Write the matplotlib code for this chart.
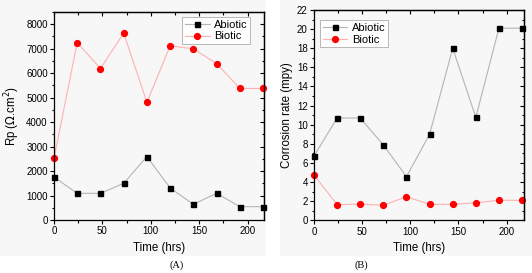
import matplotlib
matplotlib.use("Agg")
import matplotlib.pyplot as plt
from matplotlib.patches import Rectangle
from matplotlib.ticker import MultipleLocator

plt.rcParams["font.family"] = ["Liberation Sans", "DejaVu Sans"]

# data
time_hrs = [0, 24, 48, 72, 96, 120, 144, 168, 192, 216]
rp_abiotic = [1755, 1090, 1090, 1500, 2590, 1310, 640, 1090, 545, 545]
rp_biotic = [2520, 7250, 6190, 7640, 4810, 7115, 6995, 6395, 5375, 5375]
cr_abiotic = [6.72, 10.7, 10.7, 7.88, 4.56, 9.0, 18.0, 10.77, 20.1, 20.1]
cr_biotic = [4.74, 1.63, 1.70, 1.57, 2.47, 1.67, 1.67, 1.84, 2.09, 2.09]

ABIO_LINE = "#b4b4b4"
BIO_LINE = "#ffb0b0"

fig = plt.figure(figsize=(5.32, 2.73), dpi=100)
fig.patch.set_facecolor("white")
# faint grey panel backgrounds
fig.patches.append(Rectangle((0, 18 / 273), 264 / 532, 1, transform=fig.transFigure,
                             color="#f7f7f7", zorder=-10))
fig.patches.append(Rectangle((280 / 532, 18 / 273), 1, 1, transform=fig.transFigure,
                             color="#f7f7f7", zorder=-10))

axA = fig.add_axes([54 / 532, 1 - 220 / 273, 210 / 532, 208 / 273])
axB = fig.add_axes([314 / 532, 1 - 220.3 / 273, 210 / 532, 210.3 / 273])


def style(ax, xmaj, ymaj, ymin):
    ax.set_facecolor("none")
    ax.xaxis.set_major_locator(MultipleLocator(xmaj))
    ax.xaxis.set_minor_locator(MultipleLocator(xmaj / 2))
    ax.yaxis.set_major_locator(MultipleLocator(ymaj))
    ax.yaxis.set_minor_locator(MultipleLocator(ymin))
    ax.tick_params(which="both", direction="out", labelsize=7, width=0.8, pad=1.5)
    ax.tick_params(which="major", length=3)
    ax.tick_params(which="minor", length=1.8)
    for s in ax.spines.values():
        s.set_linewidth(0.9)
    top = ax.secondary_xaxis("top")
    right = ax.secondary_yaxis("right")
    top.xaxis.set_major_locator(MultipleLocator(xmaj))
    top.xaxis.set_minor_locator(MultipleLocator(xmaj / 2))
    right.yaxis.set_major_locator(MultipleLocator(ymaj))
    right.yaxis.set_minor_locator(MultipleLocator(ymin))
    for sec in (top, right):
        sec.tick_params(which="both", direction="in", labelleft=False, labelright=False,
                        labeltop=False, labelbottom=False, width=0.8)
        sec.tick_params(which="major", length=3)
        sec.tick_params(which="minor", length=1.8)
        for s in sec.spines.values():
            s.set_linewidth(0.9)


def legend(ax, loc, anchor):
    leg = ax.legend(loc=loc, bbox_to_anchor=anchor, fontsize=8, frameon=True,
                    fancybox=False, borderpad=0.25, handlelength=2.2, handletextpad=0.4,
                    labelspacing=0.15, borderaxespad=0)
    leg.get_frame().set_edgecolor("#999999")
    leg.get_frame().set_linewidth(0.6)


# ── (A) polarisation resistance ──
axA.plot(time_hrs, rp_abiotic, color=ABIO_LINE, lw=0.8, marker="s", ms=3.6,
         mfc="black", mec="black", label="Abiotic", clip_on=False)
axA.plot(time_hrs, rp_biotic, color=BIO_LINE, lw=0.8, marker="o", ms=4.2,
         mfc="red", mec="red", label="Biotic", clip_on=False)
axA.set_xlim(0, 217)
axA.set_ylim(0, 8500)
style(axA, 50, 1000, 500)
axA.set_xlabel("Time (hrs)", fontsize=8.3, labelpad=4)
axA.set_ylabel("Rp ($\\Omega$.cm$^2$)", fontsize=8.3, labelpad=3)
legend(axA, "upper right", (0.935, 0.976))

# ── (B) corrosion rate ──
axB.plot(time_hrs, cr_abiotic, color=ABIO_LINE, lw=0.8, marker="s", ms=3.6,
         mfc="black", mec="black", label="Abiotic", clip_on=False)
axB.plot(time_hrs, cr_biotic, color=BIO_LINE, lw=0.8, marker="o", ms=4.2,
         mfc="red", mec="red", label="Biotic", clip_on=False)
axB.set_xlim(0, 218)
axB.set_ylim(0, 22)
style(axB, 50, 2, 1)
axB.set_xlabel("Time (hrs)", fontsize=8.3, labelpad=4)
axB.set_ylabel("Corrosion rate (mpy)", fontsize=8.3, labelpad=3)
legend(axB, "upper left", (0.029, 0.952))

fig.text(177 / 532, 1 - 265 / 273, "(A)", fontsize=7.5, family="Liberation Serif",
         ha="center", va="center")
fig.text(361 / 532, 1 - 265 / 273, "(B)", fontsize=7.5, family="Liberation Serif",
         ha="center", va="center")

fig.savefig("out.png", dpi=100)
